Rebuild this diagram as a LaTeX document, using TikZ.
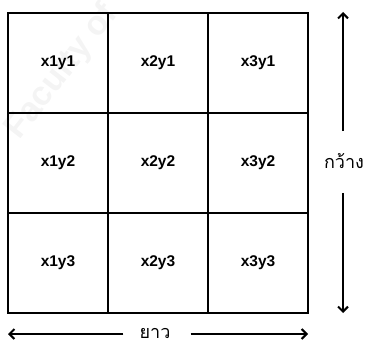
\documentclass[tikz,border=0pt]{standalone}
\usepackage{fontspec}
\setmainfont{Liberation Sans}
\newfontfamily\thaifont[Script=Thai]{Loma}
\usetikzlibrary{arrows.meta}
\begin{document}
\begin{tikzpicture}[x=1pt,y=-1pt,
  cell/.style={draw=black, line width=1.1pt, minimum width=100pt, minimum height=100pt, inner sep=0pt, font=\bfseries\fontsize{15.5}{18}\selectfont},
  dimarrow/.style={line width=2pt, -{Straight Barb[length=5pt,width=10pt,line width=2pt]}},
  dimlabel/.style={font=\thaifont\fontsize{18}{21}\selectfont, inner sep=0pt}]
  \useasboundingbox (0,0) rectangle (366,344);
  % faint background watermark
  \node[rotate=52, text=gray!9, font=\bfseries\fontsize{34}{40}\selectfont] (wm) at (62,72) {Faculty of};
  % 3x3 grid of cells
  \foreach \c in {1,2,3}{
    \foreach \r in {1,2,3}{
      \node[cell] (c\c\r) at ({8+100*(\c-1)+50},{13+100*(\r-1)+50}) {x\c y\r};
    }
  }
  % width dimension (right)
  \node[dimlabel] (wlab) at (344,161) {กว้าง};
  \coordinate (wtop) at (343,12);
  \coordinate (wbot) at (343,313);
  \draw[dimarrow] ([xshift=-1pt,yshift=22pt]wlab.north) -- (wtop);
  \draw[dimarrow] ([xshift=-1pt,yshift=-24pt]wlab.south) -- (wbot);
  % length dimension (bottom)
  \node[dimlabel] (llab) at (155,333) {ยาว};
  \coordinate (lleft) at (8,334);
  \coordinate (lright) at (308,334);
  \draw[dimarrow] ([xshift=-16pt,yshift=-1pt]llab.west) -- (lleft);
  \draw[dimarrow] ([xshift=20pt,yshift=-1pt]llab.east) -- (lright);
\end{tikzpicture}
\end{document}
